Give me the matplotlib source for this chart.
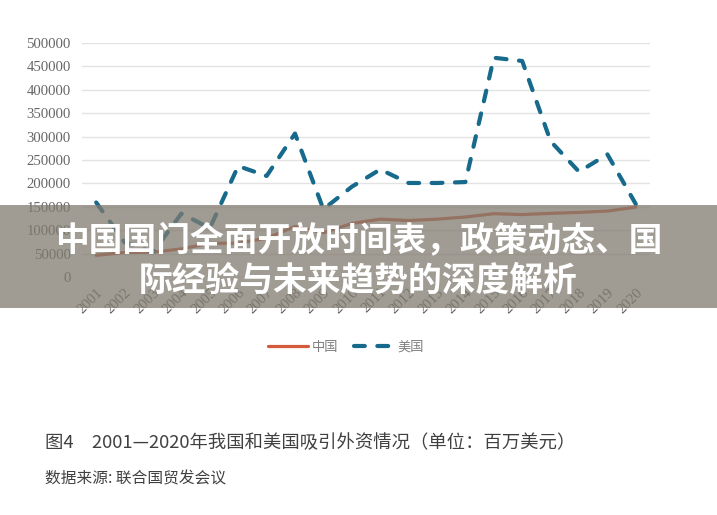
import matplotlib
matplotlib.use("Agg")
import matplotlib.pyplot as plt
from matplotlib.patches import Rectangle

years = [str(y) for y in range(2001, 2021)]
china = [46878, 52743, 53505, 60630, 72406, 72715, 83521, 108312, 95000, 114734,
         123985, 121080, 123911, 128500, 135577, 133711, 136315, 138305, 141225, 149342]
usa = [159461, 74457, 53146, 135826, 104809, 237136, 215952, 306366, 145000, 193000,
       229862, 201000, 201000, 203000, 468000, 461000, 290000, 225000, 262000, 156000]
yticks = [0, 50000, 100000, 150000, 200000, 250000, 300000, 350000, 400000, 450000, 500000]
series_names = ["中国", "美国"]
banner_lines = ["中国国门全面开放时间表，政策动态、国", "际经验与未来趋势的深度解析"]
caption = "图4　2001—2020年我国和美国吸引外资情况（单位：百万美元）"
source = "数据来源: 联合国贸发会议"

W, H = 717, 515
fig = plt.figure(figsize=(W / 100, H / 100), dpi=100)
fig.patch.set_facecolor("white")
ax = fig.add_axes([82 / W, 1 - 277.3 / H, (650 - 82) / W, (277.3 - 42.7) / H])

x = list(range(len(years)))
ax.plot(x, china, color="#d35a3a", lw=2.3, solid_capstyle="round", label=series_names[0], zorder=3)
ax.plot(x, usa, color="#176a8b", lw=3.0, linestyle=(0, (2.6, 3.0)), dash_capstyle="round",
        label=series_names[1], zorder=3)

ax.set_xlim(-0.5, len(years) - 0.5)
ax.set_ylim(0, 500000)
ax.set_yticks(yticks)
ax.set_yticklabels([str(v) for v in yticks], fontfamily="Liberation Serif", fontsize=10.6, color="#666666")
ax.set_xticks(x)
ax.set_xticklabels(years, rotation=45, ha="right", rotation_mode="anchor",
                   fontfamily="Liberation Serif", fontsize=10.6, color="#666666")
ax.tick_params(length=0, pad=8)
ax.tick_params(axis="x", pad=6)
ax.grid(axis="y", color="#e3e3e3", lw=1.0)
ax.set_axisbelow(True)
for s in ax.spines.values():
    s.set_visible(False)

leg = fig.legend(loc="center", bbox_to_anchor=(346 / W, 1 - 347 / H), ncol=2, frameon=False,
                 handlelength=3.0, columnspacing=1.2, handletextpad=0.3,
                 prop={"family": ["Noto Sans CJK SC", "DejaVu Sans"], "size": 9.5})
for t in leg.get_texts():
    t.set_color("#7f7f7f")

# overlay banner
fig.patches.append(Rectangle((0, 1 - 308 / H), 1, (308 - 205) / H, transform=fig.transFigure,
                             facecolor=(128 / 255, 123 / 255, 112 / 255), alpha=0.75,
                             edgecolor="none", zorder=10))
fig.text(0.5, 1 - 240 / H, banner_lines[0], ha="center", va="center", color="white",
         fontsize=24.3, fontweight="heavy", family=["Noto Sans CJK SC", "DejaVu Sans"], zorder=11)
fig.text(0.5, 1 - 280 / H, banner_lines[1], ha="center", va="center", color="white",
         fontsize=24.3, fontweight="heavy", family=["Noto Sans CJK SC", "DejaVu Sans"], zorder=11)

fig.text(45 / W, 1 - 443 / H, caption, ha="left", va="center", color="#404040",
         fontsize=13.2, family=["Noto Sans CJK SC", "DejaVu Sans"])
fig.text(45 / W, 1 - 479 / H, source, ha="left", va="center", color="#404040",
         fontsize=11.3, family=["Noto Sans CJK SC", "DejaVu Sans"])

fig.savefig("out.png", dpi=100)
